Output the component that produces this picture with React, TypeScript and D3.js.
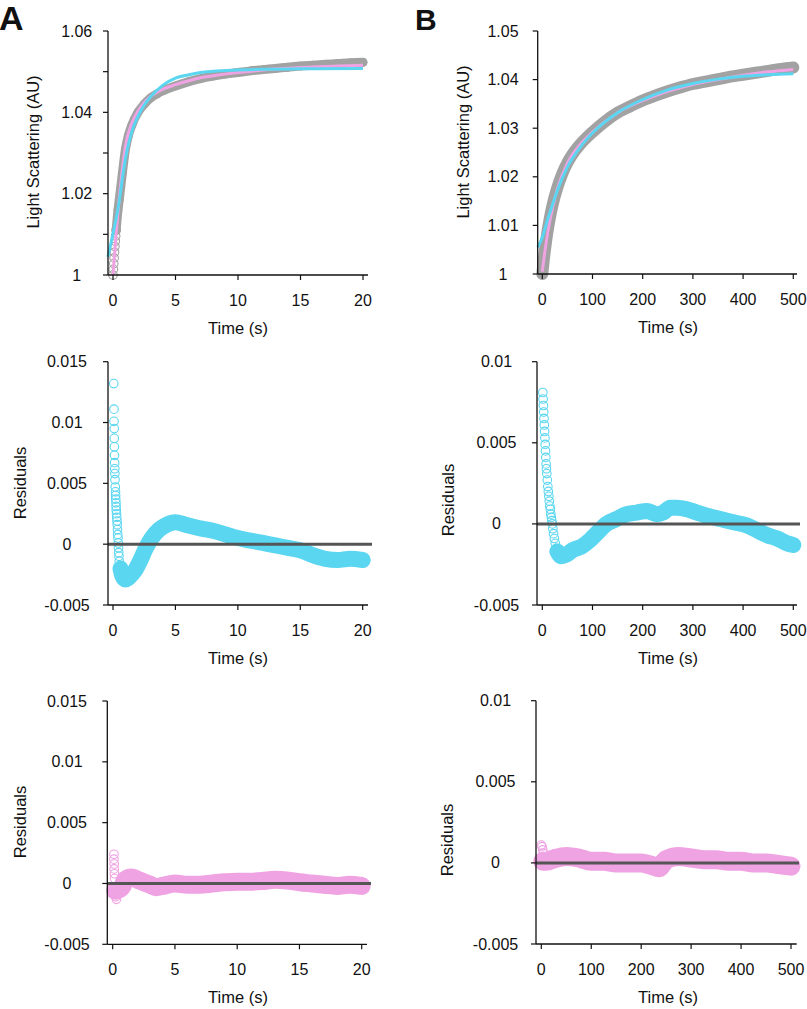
import React from "react";
import * as d3 from "d3";

type P = [number, number];

// ---------- tick values / labels ----------
const timeTicksA = [0, 5, 10, 15, 20];
const timeTicksB = [0, 100, 200, 300, 400, 500];
const scatterTicksA = [1.0, 1.01, 1.02, 1.03, 1.04, 1.05, 1.06];
const scatterLabelsA = ["1", "", "1.02", "", "1.04", "", "1.06"];
const scatterTicksB = [1.0, 1.01, 1.02, 1.03, 1.04, 1.05];
const scatterLabelsB = ["1", "1.01", "1.02", "1.03", "1.04", "1.05"];
const residTicksA = [-0.005, 0, 0.005, 0.01, 0.015];
const residLabelsA = ["-0.005", "0", "0.005", "0.01", "0.015"];
const residTicksB = [-0.005, 0, 0.005, 0.01];
const residLabelsB = ["-0.005", "0", "0.005", "0.01"];

// ---------- Panel A: light scattering (0–20 s) ----------
const dataA_early: P[] = [
  [0, 1.0], [0.03, 1.0014], [0.06, 1.0028], [0.09, 1.0042], [0.12, 1.0056],
  [0.15, 1.007], [0.18, 1.0083], [0.21, 1.0096], [0.25, 1.011],
];
const dataA_band: P[] = [
  [0.25, 1.011], [0.4, 1.016], [0.5, 1.0185], [0.75, 1.025], [1.0, 1.031],
  [1.25, 1.0345], [1.5, 1.0368], [2, 1.04], [2.5, 1.042], [3, 1.0435],
  [3.5, 1.0445], [4, 1.0453], [5, 1.0465], [6, 1.0475], [7, 1.0483],
  [8, 1.0489], [9, 1.0494], [10, 1.0498], [11, 1.0502], [12, 1.0505],
  [13, 1.0508], [14, 1.0511], [15, 1.0514], [16, 1.0516], [17, 1.0518],
  [18, 1.052], [19, 1.0522], [20, 1.0523],
];
const fitPinkA: P[] = [
  [0, 1.0], [0.1, 1.004], [0.25, 1.0102], [0.5, 1.019], [0.75, 1.026],
  [1, 1.0318], [1.5, 1.0373], [2, 1.0403], [2.5, 1.0424], [3, 1.0439],
  [4, 1.0457], [5, 1.0468], [6, 1.0477], [7, 1.0485], [8, 1.049],
  [10, 1.0498], [12, 1.0504], [15, 1.051], [18, 1.0514], [20, 1.0516],
];
const fitCyanA: P[] = [
  [-0.4, 1.0045], [0, 1.0102], [0.5, 1.0182], [0.75, 1.0237], [1, 1.0287],
  [1.5, 1.0352], [2, 1.039], [2.5, 1.0418], [3, 1.0438], [4, 1.0467],
  [5, 1.0484], [6, 1.0492], [7, 1.0498], [8, 1.0501], [10, 1.0504],
  [12, 1.0506], [15, 1.0507], [20, 1.0508],
];
const residCyanA_spike: P[] = [
  [0.06, 0.0132], [0.08, 0.0111], [0.08, 0.0101], [0.1, 0.0095], [0.1, 0.0087],
  [0.11, 0.008], [0.12, 0.0073], [0.13, 0.0067], [0.14, 0.0062], [0.15, 0.0058],
  [0.16, 0.0053], [0.18, 0.0047], [0.2, 0.0043], [0.21, 0.004], [0.22, 0.0037],
  [0.24, 0.0034], [0.25, 0.0031], [0.26, 0.0028], [0.28, 0.0025], [0.3, 0.0022],
  [0.32, 0.0019], [0.34, 0.0016], [0.36, 0.0012], [0.38, 0.0008], [0.4, 0.0005],
  [0.42, 0.0001], [0.44, -0.0003], [0.46, -0.0007], [0.48, -0.001], [0.5, -0.0014],
  [0.54, -0.0018], [0.58, -0.0022],
];
const residCyanA_band: P[] = [
  [0.6, -0.002], [0.75, -0.0026], [1.0, -0.0029], [1.2, -0.0028], [1.4, -0.0026],
  [1.8, -0.0021], [2.2, -0.0013], [2.6, -0.0004], [3.1, 0.0005], [3.7, 0.0012],
  [4.3, 0.0016], [5, 0.0018], [5.8, 0.0016], [7, 0.0013], [8, 0.0011],
  [9, 0.0008], [10, 0.0005], [11, 0.0003], [12, 0.0001], [13, -0.0001],
  [14, -0.0003], [15, -0.0005], [16, -0.0009], [17, -0.0012], [18, -0.0013],
  [19, -0.0012], [20, -0.0013],
];
const residPinkA_spike: P[] = [
  [0.1, 0.0024], [0.1, 0.002], [0.12, 0.0016], [0.12, 0.0012], [0.14, 0.0008],
  [0.15, 0.0004], [0.2, -0.0008], [0.25, -0.0011], [0.3, -0.0013],
];
const residPinkA_band: P[] = [
  [0.2, -0.0006], [0.5, -0.0005], [0.8, -0.0002], [1.0, 0.0003], [1.5, 0.0005],
  [2, 0.0003], [2.5, 0.0001], [3, -0.0001], [3.5, -0.0003], [4, -0.0002],
  [5, 0.0], [6, -0.0001], [7, -0.0001], [8, 0.0], [9, 0.0001],
  [10, 0.00015], [11, 0.00015], [12, 0.0002], [13, 0.0003], [14, 0.00025],
  [15, 0.0001], [16, 0.0], [17, -0.0001], [18, -0.0002], [19, -0.0001],
  [20, -0.0002],
];

// ---------- Panel B: light scattering (0–500 s) ----------
const dataB_band: P[] = [
  [0, 1.0], [3, 1.003], [6, 1.0055], [10, 1.0085], [15, 1.0115], [20, 1.014],
  [30, 1.0178], [40, 1.0207], [50, 1.0229], [60, 1.0246], [75, 1.0266],
  [100, 1.0292], [125, 1.0314], [150, 1.0332], [175, 1.0345], [200, 1.0357],
  [225, 1.0367], [250, 1.0376], [275, 1.0384], [300, 1.0391], [325, 1.0396],
  [350, 1.0401], [375, 1.0406], [400, 1.041], [425, 1.0414], [450, 1.0418],
  [475, 1.0422], [500, 1.0425],
];
const fitPinkB: P[] = [
  [0, 1.0005], [5, 1.0045], [10, 1.008], [20, 1.0135], [30, 1.0175],
  [50, 1.0228], [75, 1.0266], [100, 1.0292], [150, 1.0332], [200, 1.0357],
  [250, 1.0376], [300, 1.039], [350, 1.04], [400, 1.0409], [450, 1.0416],
  [500, 1.0421],
];
const fitCyanB: P[] = [
  [-9, 1.0055], [0, 1.0075], [10, 1.011], [20, 1.0142], [30, 1.0172],
  [50, 1.022], [75, 1.026], [100, 1.029], [150, 1.0332], [200, 1.0359],
  [250, 1.0379], [300, 1.0392], [350, 1.0401], [400, 1.0407], [450, 1.041],
  [500, 1.0412],
];
const residCyanB_spike: P[] = [
  [1, 0.0081], [1.6, 0.0077], [2.2, 0.0073], [2.8, 0.0069], [3.4, 0.0065],
  [4, 0.0061], [4.6, 0.0057], [5.2, 0.0053], [5.8, 0.0049], [6.4, 0.0045],
  [7, 0.0041], [7.6, 0.0037], [8.2, 0.0034], [9, 0.0031], [10, 0.0027],
  [11, 0.0023], [12, 0.002], [13, 0.0017], [14, 0.0014], [15, 0.0011],
  [16, 0.0009], [17, 0.0006], [18, 0.0004], [19, 0.0002], [20, 0.0],
  [21, -0.0003], [22.5, -0.0006], [24, -0.0009], [26, -0.0012], [28, -0.0015],
];
const residCyanB_band: P[] = [
  [30, -0.0017], [38, -0.002], [48, -0.0019], [61, -0.0016], [78, -0.0014],
  [95, -0.001], [111, -0.0005], [128, 0.0], [148, 0.0003], [168, 0.0006],
  [188, 0.0007], [208, 0.0008], [228, 0.0006], [241, 0.0007], [255, 0.001],
  [268, 0.001], [288, 0.0009], [308, 0.0007], [328, 0.0005], [355, 0.0003],
  [381, 0.0001], [408, -0.0001], [428, -0.0004], [448, -0.0007], [468, -0.0009],
  [488, -0.0012], [500, -0.0013],
];
const residPinkB_spike: P[] = [
  [0, 0.0011], [1.5, 0.001], [3, 0.0008], [4, 0.0006],
];
const residPinkB_band: P[] = [
  [3, 0.0001], [10, 0.0001], [25, 0.00025], [50, 0.0004], [75, 0.0003],
  [100, 0.0001], [125, 0.0001], [150, 0.0], [175, 0.0], [200, 0.0],
  [225, -0.0002], [235, -0.0003], [250, 0.0002], [275, 0.0004], [300, 0.0003],
  [325, 0.0002], [350, 0.0002], [375, 0.0001], [400, 0.0001], [425, 0.0],
  [450, 0.0], [475, -0.0001], [500, -0.0002],
];

// ---------- styling ----------
const FONT = "'Liberation Sans', Arial, Helvetica, sans-serif";
const GRAY = "#a2a2a2";
const CYAN = "#5ad6f1";
const PINK = "#f0a3e3";
const ZERO = "#555555";

type Scales = { x: d3.ScaleLinear<number, number>; y: d3.ScaleLinear<number, number> };

interface PanelProps {
  xRange: [number, number];
  xAt: [number, number]; // pixel of first and last time tick
  yRange: [number, number];
  yDomain: [number, number];
  yTicks: number[];
  yLabels: string[];
  yLabelCx: number;
  xTicks: number[];
  yTitle: string;
  yTitlePos: [number, number];
  xTitleCx: number;
  zeroLineEnd?: number;
  render: (s: Scales) => React.ReactNode;
}

function Panel(p: PanelProps) {
  const t0 = p.xTicks[0];
  const t1 = p.xTicks[p.xTicks.length - 1];
  const pxPerUnit = (p.xAt[1] - p.xAt[0]) / (t1 - t0);
  const x = d3
    .scaleLinear()
    .domain([t0 + (p.xRange[0] - p.xAt[0]) / pxPerUnit, t1 + (p.xRange[1] - p.xAt[1]) / pxPerUnit])
    .range(p.xRange);
  const y = d3.scaleLinear().domain(p.yDomain).range(p.yRange);
  const axisY = p.yRange[0];
  const axisX = p.xRange[0];
  return (
    <g>
      {p.render({ x, y })}
      {p.zeroLineEnd !== undefined && (
        <line x1={axisX} x2={p.zeroLineEnd} y1={y(0)} y2={y(0)} stroke={ZERO} strokeWidth={3} />
      )}
      <line x1={axisX} x2={axisX} y1={p.yRange[1]} y2={axisY} stroke="#111" strokeWidth={1.3} />
      <line x1={axisX} x2={p.xRange[1]} y1={axisY} y2={axisY} stroke="#111" strokeWidth={1.3} />
      {p.yTicks.map((v, i) => (
        <g key={"yt" + i}>
          <line x1={axisX - 5} x2={axisX} y1={y(v)} y2={y(v)} stroke="#111" strokeWidth={1.2} />
          {p.yLabels[i] && (
            <text x={p.yLabelCx} y={y(v)} textAnchor="middle" dominantBaseline="central"
              fontFamily={FONT} fontSize={16} fill="#111">
              {p.yLabels[i]}
            </text>
          )}
        </g>
      ))}
      {p.xTicks.map((v, i) => (
        <g key={"xt" + i}>
          <line x1={x(v)} x2={x(v)} y1={axisY} y2={axisY + 5} stroke="#111" strokeWidth={1.2} />
          <text x={x(v)} y={axisY + 25} textAnchor="middle" dominantBaseline="central"
            fontFamily={FONT} fontSize={16} fill="#111">
            {v}
          </text>
        </g>
      ))}
      <text x={p.xTitleCx} y={axisY + 53} textAnchor="middle" dominantBaseline="central"
        fontFamily={FONT} fontSize={16.5} fill="#111">
        Time (s)
      </text>
      <text
        transform={`translate(${p.yTitlePos[0]},${p.yTitlePos[1]}) rotate(-90)`}
        textAnchor="middle" dominantBaseline="central" fontFamily={FONT} fontSize={16.5} fill="#111">
        {p.yTitle}
      </text>
    </g>
  );
}

function Band({ s, pts, color, width }: { s: Scales; pts: P[]; color: string; width: number }) {
  const line = d3
    .line<P>()
    .x((d) => s.x(d[0]))
    .y((d) => s.y(d[1]))
    .curve(d3.curveMonotoneX);
  return (
    <g>
      <path d={line(pts) || ""} fill="none" stroke={color} strokeWidth={width}
        strokeLinecap="round" strokeLinejoin="round" />
      {pts.map((d, i) => (
        <circle key={i} cx={s.x(d[0])} cy={s.y(d[1])} r={4} fill="none" stroke={color} strokeWidth={1} />
      ))}
    </g>
  );
}

function Circles({ s, pts, color }: { s: Scales; pts: P[]; color: string }) {
  return (
    <g>
      {pts.map((d, i) => (
        <circle key={i} cx={s.x(d[0])} cy={s.y(d[1])} r={4.3} fill="none" stroke={color} strokeWidth={1.1} />
      ))}
    </g>
  );
}

function Fit({ s, pts, color }: { s: Scales; pts: P[]; color: string }) {
  const line = d3
    .line<P>()
    .x((d) => s.x(d[0]))
    .y((d) => s.y(d[1]))
    .curve(d3.curveMonotoneX);
  return <path d={line(pts) || ""} fill="none" stroke={color} strokeWidth={3} strokeLinecap="butt" />;
}

export default function App() {
  return (
    <svg width={807} height={1009} style={{ position: "absolute", left: 0, top: 0, background: "#fff" }}>
      <rect x={0} y={0} width={807} height={1009} fill="#fff" />
      <text x={-1} y={30} fontFamily={FONT} fontWeight="bold" fontSize={34} fill="#111">A</text>
      <text x={415} y={30} fontFamily={FONT} fontWeight="bold" fontSize={30} fill="#111">B</text>

      {/* A top */}
      <Panel
        xRange={[108, 368]} xAt={[113, 363]} yRange={[275, 31]} yDomain={[1.0, 1.06]}
        yTicks={scatterTicksA} yLabels={scatterLabelsA} yLabelCx={76.7} xTicks={timeTicksA}
        yTitle="Light Scattering (AU)" yTitlePos={[33, 152]} xTitleCx={238}
        render={(s) => (
          <g>
            <Circles s={s} pts={dataA_early} color={GRAY} />
            <Band s={s} pts={dataA_band} color={GRAY} width={9} />
            <Fit s={s} pts={fitPinkA} color={PINK} />
            <Fit s={s} pts={fitCyanA} color={CYAN} />
          </g>
        )}
      />
      {/* A middle */}
      <Panel
        xRange={[108, 368]} xAt={[113, 362.7]} yRange={[605, 361.7]} yDomain={[-0.005, 0.015]}
        yTicks={residTicksA} yLabels={residLabelsA} yLabelCx={67} xTicks={timeTicksA}
        yTitle="Residuals" yTitlePos={[20, 483]} xTitleCx={238} zeroLineEnd={372}
        render={(s) => (
          <g>
            <Circles s={s} pts={residCyanA_spike} color={CYAN} />
            <Band s={s} pts={residCyanA_band} color={CYAN} width={16} />
          </g>
        )}
      />
      {/* A bottom */}
      <Panel
        xRange={[107.3, 367]} xAt={[112.7, 361.7]} yRange={[944.3, 701]} yDomain={[-0.005, 0.015]}
        yTicks={residTicksA} yLabels={residLabelsA} yLabelCx={67} xTicks={timeTicksA}
        yTitle="Residuals" yTitlePos={[20, 822]} xTitleCx={238} zeroLineEnd={371}
        render={(s) => (
          <g>
            <Circles s={s} pts={residPinkA_spike} color={PINK} />
            <Band s={s} pts={residPinkA_band} color={PINK} width={18} />
          </g>
        )}
      />
      {/* B top */}
      <Panel
        xRange={[537.7, 797]} xAt={[542.3, 793.3]} yRange={[274, 31]} yDomain={[1.0, 1.05]}
        yTicks={scatterTicksB} yLabels={scatterLabelsB} yLabelCx={503} xTicks={timeTicksB}
        yTitle="Light Scattering (AU)" yTitlePos={[463, 142]} xTitleCx={668}
        render={(s) => (
          <g>
            <Band s={s} pts={dataB_band} color={GRAY} width={12} />
            <Fit s={s} pts={fitPinkB} color={PINK} />
            <Fit s={s} pts={fitCyanB} color={CYAN} />
          </g>
        )}
      />
      {/* B middle */}
      <Panel
        xRange={[537, 797]} xAt={[542.3, 793.3]} yRange={[605, 361.7]} yDomain={[-0.005, 0.01]}
        yTicks={residTicksB} yLabels={residLabelsB} yLabelCx={496.5} xTicks={timeTicksB}
        yTitle="Residuals" yTitlePos={[448, 500]} xTitleCx={668} zeroLineEnd={800}
        render={(s) => (
          <g>
            <Circles s={s} pts={residCyanB_spike} color={CYAN} />
            <Band s={s} pts={residCyanB_band} color={CYAN} width={16} />
          </g>
        )}
      />
      {/* B bottom */}
      <Panel
        xRange={[536, 796.7]} xAt={[541.3, 791]} yRange={[944, 700.7]} yDomain={[-0.005, 0.01]}
        yTicks={residTicksB} yLabels={residLabelsB} yLabelCx={495.5} xTicks={timeTicksB}
        yTitle="Residuals" yTitlePos={[446.7, 840]} xTitleCx={668} zeroLineEnd={799}
        render={(s) => (
          <g>
            <Circles s={s} pts={residPinkB_spike} color={PINK} />
            <Band s={s} pts={residPinkB_band} color={PINK} width={19} />
          </g>
        )}
      />
    </svg>
  );
}
